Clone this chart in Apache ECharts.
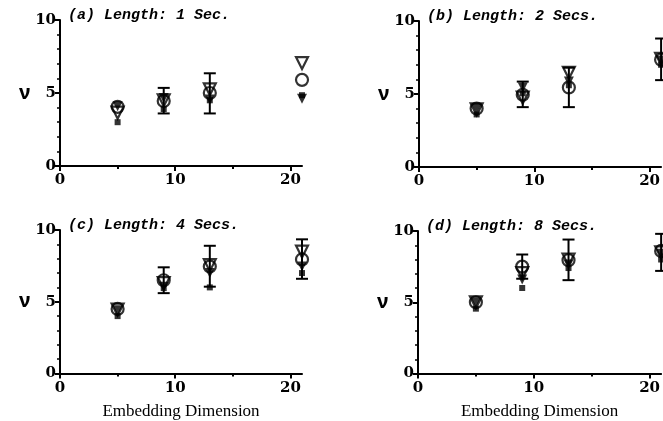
<!DOCTYPE html>
<html>
<head>
<meta charset="utf-8">
<script src="https://cdn.jsdelivr.net/npm/echarts@6/dist/echarts.min.js"></script>
<style>
  html, body { margin: 0; padding: 0; background: #fff; }
  #chart { width: 663px; height: 421px; }
</style>
</head>
<body>
<div id="chart"></div>
<script>
// embedding dimensions on the x axis
const dims = [5, 9, 13, 21]
const panelTitles = ['(a) Length: 1 Sec.', '(b) Length: 2 Secs.', '(c) Length: 4 Secs.', '(d) Length: 8 Secs.']

// (a) 1 sec
const circleA = [4.05, 4.45, 5.0, 5.9]
const triOpenA = [3.65, 4.5, 5.25, 7.05]
const triFilledA = [4.1, 4.65, 4.55, 4.6]
const squareA = [3.0, 3.9, 4.5, 4.85]
const errLowA = [null, 3.6, 3.6, null]
const errHighA = [null, 5.35, 6.35, null]

// (b) 2 secs
const circleB = [4.0, 4.95, 5.45, 7.35]
const triOpenB = [3.95, 4.75, 6.45, 7.4]
const triFilledB = [4.0, 5.45, 5.85, 7.3]
const squareB = [3.6, 5.05, 5.6, 7.0]
const errLowB = [null, 4.1, 4.1, 5.95]
const errHighB = [null, 5.85, 6.8, 8.8]

// (c) 4 secs
const circleC = [4.5, 6.5, 7.45, 7.95]
const triOpenC = [4.45, 6.3, 7.55, 8.5]
const triFilledC = [4.4, 6.05, 7.0, 7.45]
const squareC = [4.0, 5.95, 6.0, 7.0]
const errLowC = [null, 5.6, 6.05, 6.6]
const errHighC = [null, 7.4, 8.9, 9.35]

// (d) 8 secs
const circleD = [5.0, 7.5, 7.95, 8.6]
const triOpenD = [5.0, 7.05, 8.0, 8.5]
const triFilledD = [5.0, 6.6, 7.65, 8.4]
const squareD = [4.55, 6.0, 7.4, 8.0]
const errLowD = [null, 6.65, 6.55, 7.2]
const errHighD = [null, 8.35, 9.4, 9.8]

const yTicks = [0, 5, 10]
const xTicks = [0, 10, 20]

const panels = [
  { circle: circleA, triOpen: triOpenA, triFilled: triFilledA, square: squareA, lo: errLowA, hi: errHighA },
  { circle: circleB, triOpen: triOpenB, triFilled: triFilledB, square: squareB, lo: errLowB, hi: errHighB },
  { circle: circleC, triOpen: triOpenC, triFilled: triFilledC, square: squareC, lo: errLowC, hi: errHighC },
  { circle: circleD, triOpen: triOpenD, triFilled: triFilledD, square: squareD, lo: errLowD, hi: errHighD }
]

const gridBoxes = [
  { left: 60, top: 20, width: 242, height: 146 },
  { left: 419, top: 21, width: 246, height: 146 },
  { left: 60, top: 230, width: 242, height: 144 },
  { left: 418, top: 231, width: 246, height: 144 }
]

const chart = echarts.init(document.getElementById('chart'))

const tickFont = { color: '#000', fontFamily: 'DejaVu Serif', fontWeight: 'bold', fontSize: 15 }
const black = '#000'

const grid = [], xAxis = [], yAxis = [], series = [], title = []

panels.forEach((p, i) => {
  const g = gridBoxes[i]
  grid.push({ left: g.left, top: g.top, width: g.width, height: g.height, containLabel: false })

  title.push({
    text: panelTitles[i],
    left: g.left + 8,
    top: g.top - 12,
    padding: 0,
    textStyle: { fontFamily: 'Liberation Mono', fontStyle: 'italic', fontWeight: 'bold', fontSize: 15, color: black }
  })

  const bottom = i >= 2
  // main x axis
  xAxis.push({
    type: 'value', gridIndex: i, min: 0, max: 21,
    name: bottom ? 'Embedding Dimension' : '',
    nameLocation: 'middle', nameGap: 38,
    nameTextStyle: { fontFamily: 'Liberation Serif', fontSize: 17, color: black, verticalAlign: 'middle' },
    axisLine: { show: true, lineStyle: { color: black, width: 2 } },
    axisTick: { show: true, customValues: xTicks, length: 5, lineStyle: { color: black, width: 2 } },
    axisLabel: { customValues: xTicks, margin: 7, ...tickFont },
    splitLine: { show: false }
  })
  // minor x ticks (inside)
  xAxis.push({
    type: 'value', gridIndex: i, min: 0, max: 21,
    axisLine: { show: false },
    axisTick: { show: true, inside: true, customValues: [5, 15], length: 3, lineStyle: { color: black, width: 2 } },
    axisLabel: { show: false },
    splitLine: { show: false }
  })
  // main y axis
  yAxis.push({
    type: 'value', gridIndex: i, min: 0, max: 10,
    name: 'ν', nameLocation: 'middle', nameRotate: 0, nameGap: 18,
    nameTextStyle: { fontFamily: 'Noto Sans', fontWeight: 'bold', fontSize: 20, color: black, align: 'center', padding: [0, 0, 6, 0] },
    axisLine: { show: true, lineStyle: { color: black, width: 2 } },
    axisTick: { show: true, customValues: yTicks, length: 5, lineStyle: { color: black, width: 2 } },
    axisLabel: { customValues: yTicks, margin: 4, ...tickFont },
    splitLine: { show: false }
  })
  // minor y ticks (inside)
  yAxis.push({
    type: 'value', gridIndex: i, min: 0, max: 10, interval: 1,
    axisLine: { show: false },
    axisTick: { show: true, inside: true, length: 3, lineStyle: { color: black, width: 1.5 } },
    axisLabel: { show: false },
    splitLine: { show: false }
  })

  const xi = i * 2, yi = i * 2

  const errData = []
  dims.forEach((d, k) => {
    if (p.lo[k] != null) errData.push([d, p.lo[k], p.hi[k]])
  })

  series.push({
    type: 'custom', xAxisIndex: xi, yAxisIndex: yi,
    data: errData,
    encode: { x: 0, y: [1, 2] },
    renderItem: (params, api) => {
      const x = api.value(0)
      const lo = api.coord([x, api.value(1)])
      const hi = api.coord([x, api.value(2)])
      const cap = 6
      const style = { stroke: black, lineWidth: 2 }
      return {
        type: 'group',
        children: [
          { type: 'line', shape: { x1: lo[0], y1: lo[1], x2: hi[0], y2: hi[1] }, style },
          { type: 'line', shape: { x1: lo[0] - cap, y1: lo[1], x2: lo[0] + cap, y2: lo[1] }, style },
          { type: 'line', shape: { x1: hi[0] - cap, y1: hi[1], x2: hi[0] + cap, y2: hi[1] }, style }
        ]
      }
    },
    z: 2
  })

  const open = { color: 'rgba(0,0,0,0)', borderColor: black, borderWidth: 2.2 }
  series.push({
    type: 'scatter', xAxisIndex: xi, yAxisIndex: yi,
    data: dims.map((d, k) => [d, p.circle[k]]),
    symbol: 'circle', symbolSize: 12, itemStyle: open, z: 3
  })
  series.push({
    type: 'scatter', xAxisIndex: xi, yAxisIndex: yi,
    data: dims.map((d, k) => [d, p.triOpen[k]]),
    symbol: 'triangle', symbolRotate: 180, symbolSize: 12, itemStyle: open, z: 3
  })
  series.push({
    type: 'scatter', xAxisIndex: xi, yAxisIndex: yi,
    data: dims.map((d, k) => [d, p.triFilled[k]]),
    symbol: 'triangle', symbolRotate: 180, symbolSize: 10, itemStyle: { color: black }, z: 4
  })
  series.push({
    type: 'scatter', xAxisIndex: xi, yAxisIndex: yi,
    data: dims.map((d, k) => [d, p.square[k]]),
    symbol: 'rect', symbolSize: 6, itemStyle: { color: black }, z: 4
  })
})

chart.setOption({
  animation: false,
  backgroundColor: '#fff',
  title,
  grid,
  xAxis,
  yAxis,
  series
})
</script>
</body>
</html>
